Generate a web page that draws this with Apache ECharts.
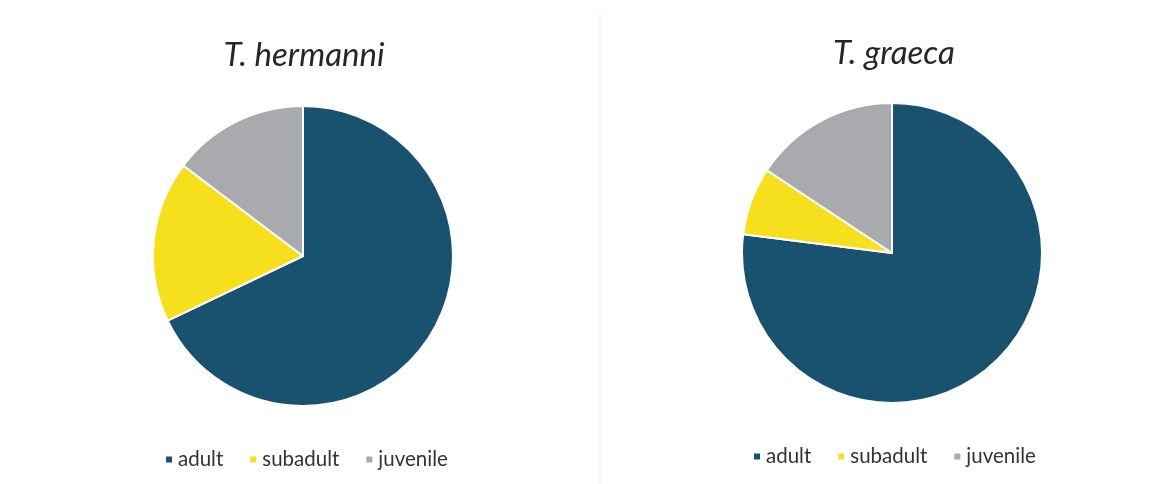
<!DOCTYPE html>
<html>
<head>
<meta charset="utf-8">
<script src="https://cdn.jsdelivr.net/npm/echarts@6/dist/echarts.min.js"></script>
<style>
  html, body { margin: 0; padding: 0; background: #ffffff; }
  #chart { width: 1172px; height: 484px; }
</style>
</head>
<body>
<div id="chart"></div>
<script>
// Age classes and their share (%) of each tortoise sample
const categories = ['adult', 'subadult', 'juvenile'];
const hermanniShares = [67.9, 17.4, 14.7];
const graecaShares = [77.0, 7.3, 15.7];
const speciesTitles = ['T. hermanni', 'T. graeca'];
const classColors = ['#18526e', '#f6e01e', '#a9aaae'];

const chart = echarts.init(document.getElementById('chart'));

function pieData(values) {
  return categories.map((name, i) => ({ name: name, value: values[i] }));
}

function legendAt(left, top) {
  return {
    left: left,
    top: top,
    orient: 'horizontal',
    icon: 'rect',
    itemWidth: 8,
    itemHeight: 8,
    itemGap: 25,
    selectedMode: false,
    textStyle: { fontFamily: 'Lato', fontSize: 20.5, color: '#333333' },
    data: categories
  };
}

function pieSeries(center, values) {
  return {
    type: 'pie',
    center: center,
    radius: 150,
    startAngle: 90,
    clockwise: true,
    silent: true,
    animation: false,
    label: { show: false },
    labelLine: { show: false },
    itemStyle: { borderColor: '#ffffff', borderWidth: 2 },
    data: pieData(values)
  };
}

const titleText = { fontFamily: 'Lato', fontStyle: 'italic', fontWeight: 'normal', fontSize: 33, color: '#262626' };

chart.setOption({
  backgroundColor: '#ffffff',
  color: classColors,
  title: [
    { text: speciesTitles[0], left: 299, top: 34, textAlign: 'center', textStyle: titleText },
    { text: speciesTitles[1], left: 889, top: 32, textAlign: 'center', textStyle: titleText }
  ],
  legend: [legendAt(159, 444), legendAt(747, 441)],
  graphic: [
    {
      type: 'line',
      shape: { x1: 600, y1: 12, x2: 600, y2: 484 },
      style: { stroke: '#f4f4f4', lineWidth: 1.5 },
      silent: true
    }
  ],
  series: [
    pieSeries([303, 256], hermanniShares),
    pieSeries([892, 253], graecaShares)
  ]
});
</script>
</body>
</html>
